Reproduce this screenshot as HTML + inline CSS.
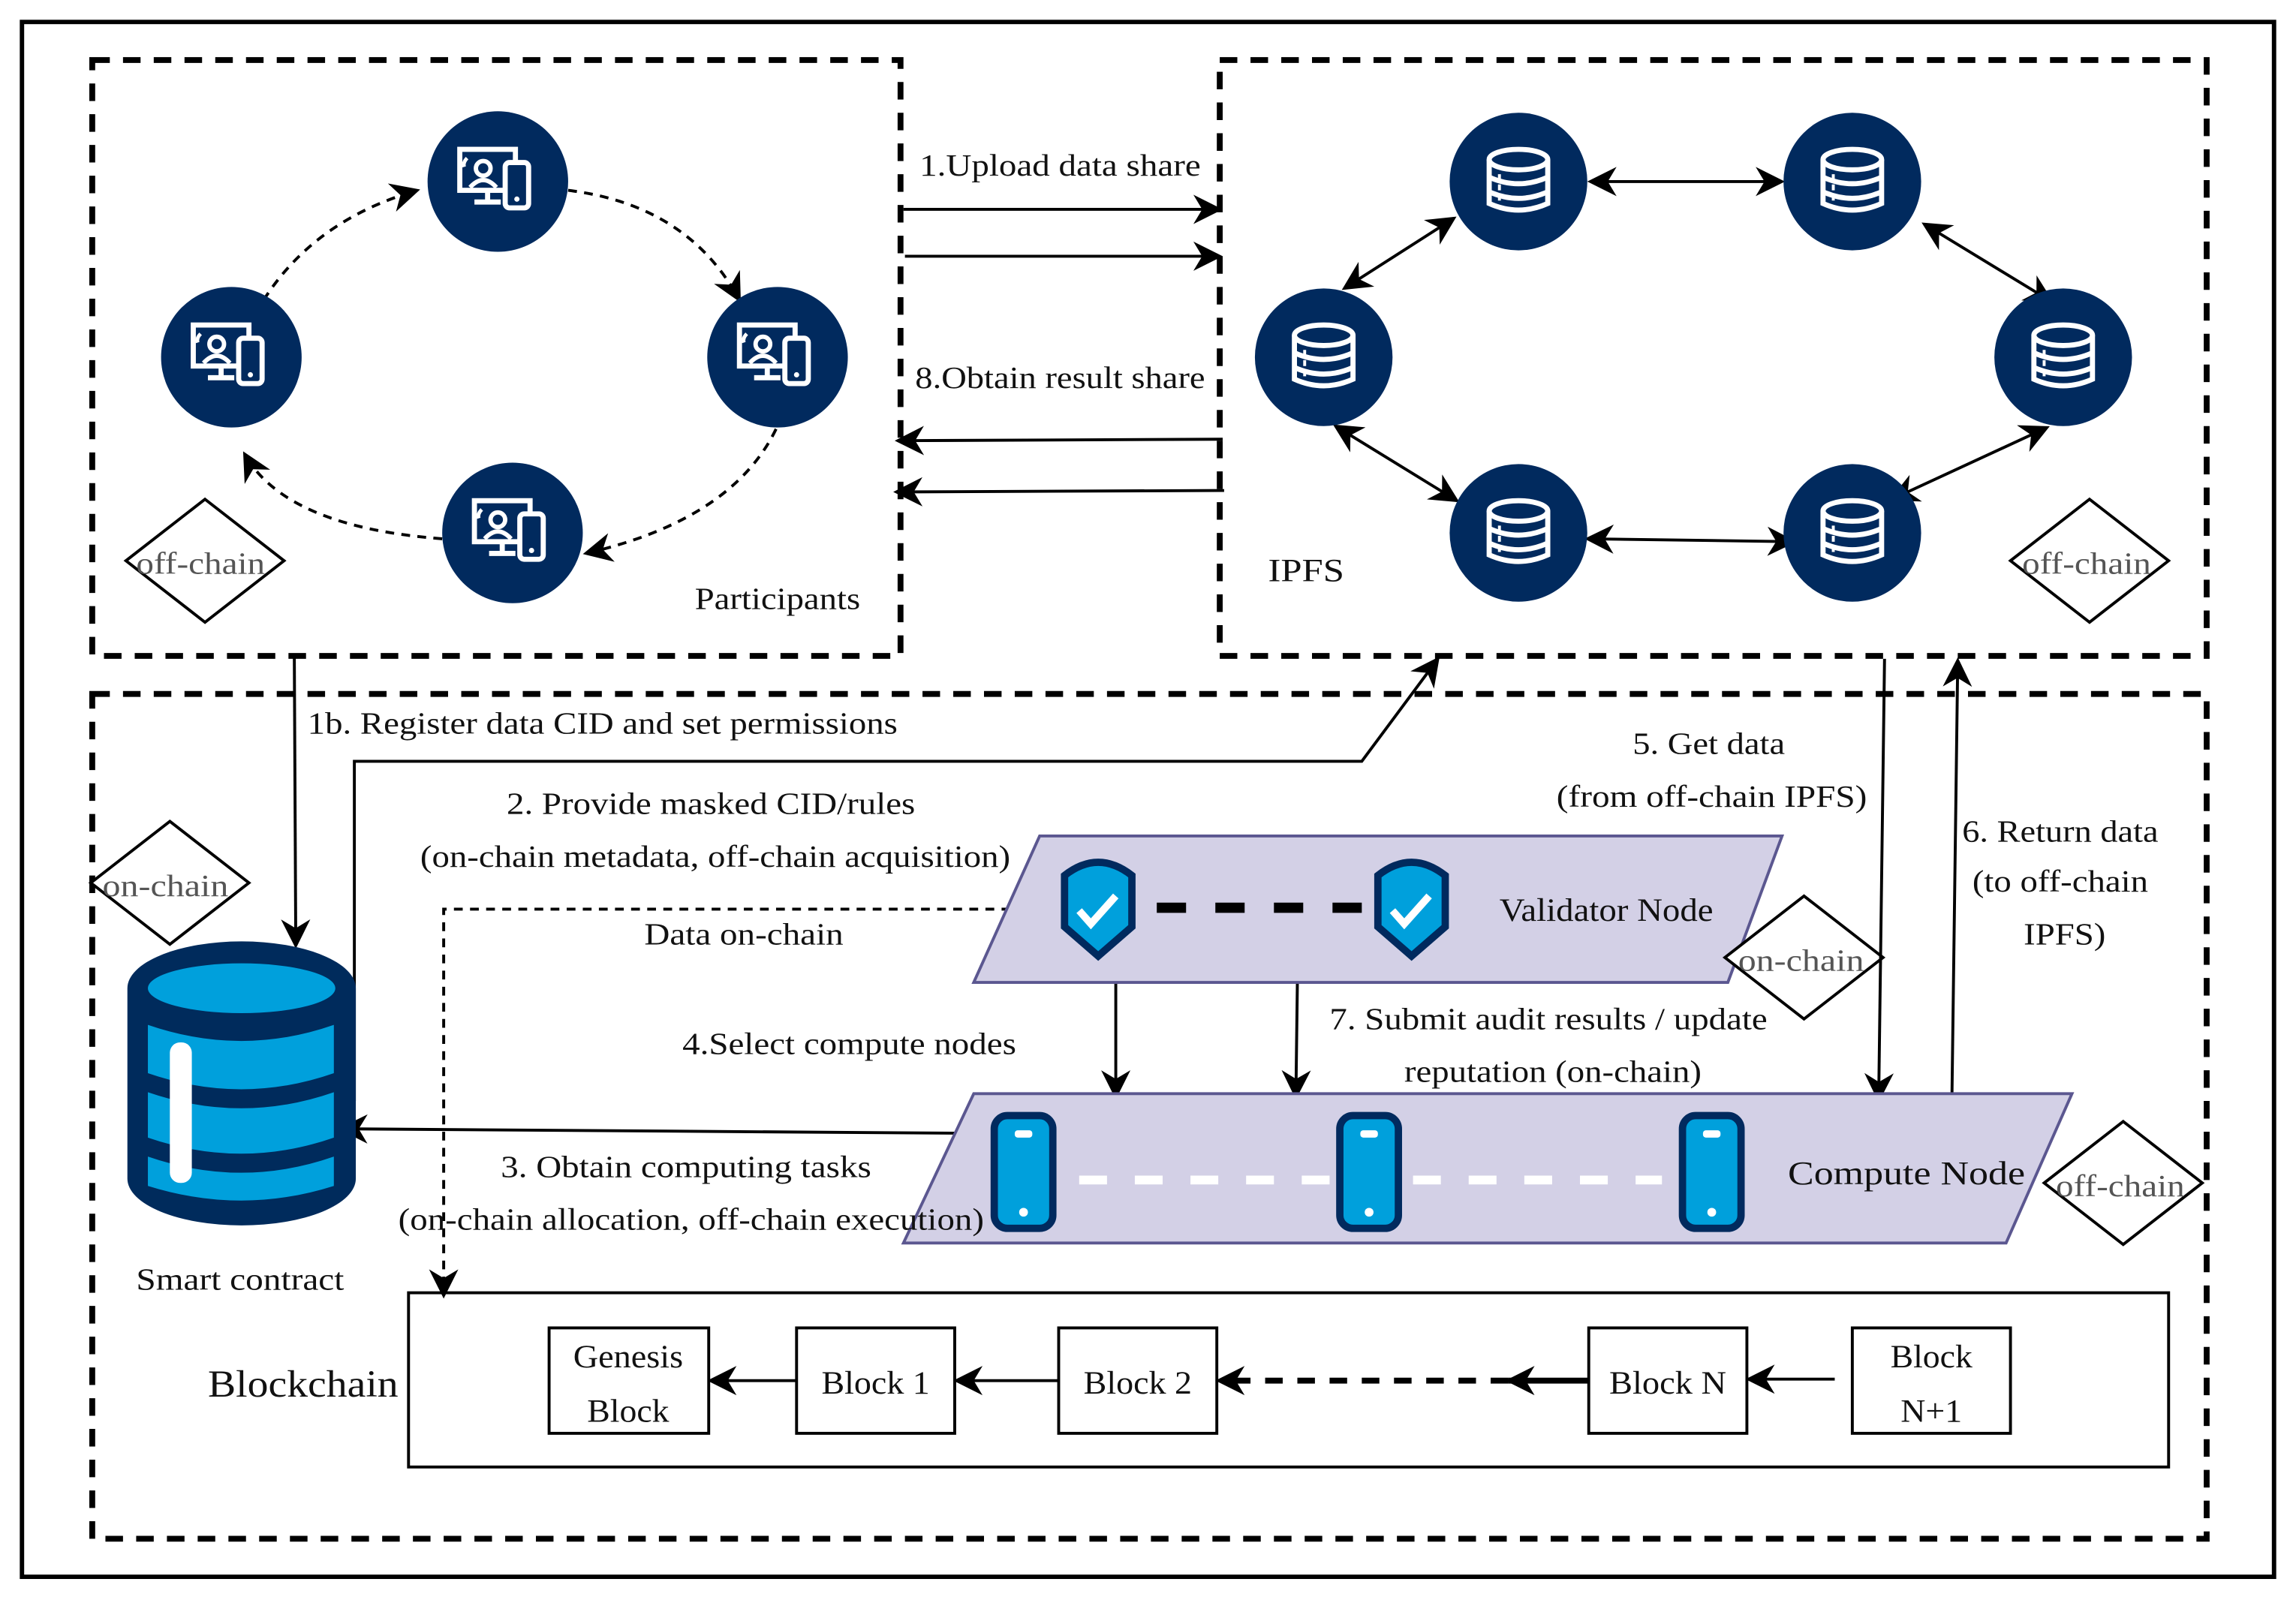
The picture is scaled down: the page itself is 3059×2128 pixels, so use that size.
<!DOCTYPE html>
<html><head><meta charset="utf-8"><style>
html,body{margin:0;padding:0;background:#fff;}
svg{display:block;}
text{font-family:"Liberation Serif","Times New Roman",serif;fill:#111;}
.d{fill:#555;}
</style></head><body>
<svg width="3059" height="2128" viewBox="0 0 1568 1090.8" preserveAspectRatio="none" xmlns="http://www.w3.org/2000/svg">
<defs>
<marker id="b" viewBox="0 0 10 10" refX="9" refY="5" markerWidth="20" markerHeight="20" markerUnits="userSpaceOnUse" orient="auto-start-reverse">
<path d="M0,0 L10,5 L0,10 L3,5 Z" fill="#000"/></marker>
<g id="pc">
<circle r="48" fill="#012a5e"/>
<rect x="-26" y="-22" width="38" height="28" fill="none" stroke="#fff" stroke-width="3.5"/>
<line x1="-7" y1="6" x2="-7" y2="13" stroke="#fff" stroke-width="3.5"/>
<line x1="-16" y1="14" x2="2" y2="14" stroke="#fff" stroke-width="3.5"/>
<circle cx="-10" cy="-9" r="5" fill="none" stroke="#fff" stroke-width="3"/>
<path d="M-19,4 Q-10,-6 -1,4" fill="none" stroke="#fff" stroke-width="3"/>
<path d="M-21,-16 q-3,3 -2,6" fill="none" stroke="#fff" stroke-width="2.5"/>
<rect x="5" y="-13" width="16" height="31" rx="3" fill="#012a5e" stroke="#fff" stroke-width="3.5"/>
<circle cx="13" cy="12" r="1.8" fill="#fff"/>
</g>
<g id="db">
<circle r="47" fill="#012a5e"/>
<ellipse cx="0" cy="-15" rx="20" ry="7" fill="none" stroke="#fff" stroke-width="3.5"/>
<path d="M-20,-15 V15 Q0,24 20,15 V-15" fill="none" stroke="#fff" stroke-width="3.5"/>
<path d="M-20,-3 Q0,6 20,-3 M-20,7 Q0,16 20,7" fill="none" stroke="#fff" stroke-width="3.5"/>
<line x1="-13" y1="-5" x2="-13" y2="13" stroke="#fff" stroke-width="2" stroke-dasharray="4,3"/>
</g>
<g id="sh">
<path d="M-23,-22 Q0,-40 23,-22 V13 L0,33 L-23,13 Z" fill="#00a0dc" stroke="#012a5e" stroke-width="5"/>
<path d="M-13,2 L-5,11 L12,-8" fill="none" stroke="#fff" stroke-width="5"/>
</g>
<g id="ph">
<rect x="-20" y="-38" width="40" height="77" rx="9" fill="#00a0dc" stroke="#012a5e" stroke-width="5"/>
<rect x="-6" y="-28" width="12" height="5" rx="2" fill="#fff"/>
<circle cx="0" cy="28" r="3" fill="#fff"/>
</g>
<g id="dm"><path d="M0,-42 L54,0 L0,42 L-54,0 Z" fill="#fff" stroke="#000" stroke-width="2"/></g>
</defs>

<rect x="15" y="15" width="1538" height="1062" fill="none" stroke="#000" stroke-width="3"/>
<rect x="63" y="41" width="552" height="407" fill="none" stroke="#000" stroke-width="4" stroke-dasharray="12,9"/>
<rect x="833" y="41" width="674" height="407" fill="none" stroke="#000" stroke-width="4" stroke-dasharray="12,9"/>
<rect x="63" y="474" width="1444" height="577" fill="none" stroke="#000" stroke-width="4" stroke-dasharray="12,9"/>

<g fill="none" stroke="#000" stroke-width="2" stroke-dasharray="6,5">
<path d="M180,205 Q215,150 285,130" marker-end="url(#b)"/>
<path d="M388,130 Q470,140 505,205" marker-end="url(#b)"/>
<path d="M530,293 Q500,355 400,378" marker-end="url(#b)"/>
<path d="M302,368 Q195,360 167,310" marker-end="url(#b)"/>
</g>
<use href="#pc" x="340" y="124"/><use href="#pc" x="158" y="244"/><use href="#pc" x="531" y="244"/><use href="#pc" x="350" y="364"/>
<use href="#dm" x="140" y="383"/>
<text x="137" y="392" font-size="21" class="d" text-anchor="middle" textLength="88" lengthAdjust="spacingAndGlyphs">off-chain</text>
<text x="531" y="416" font-size="21" text-anchor="middle" textLength="113" lengthAdjust="spacingAndGlyphs">Participants</text>

<text x="628" y="120" font-size="21" textLength="192" lengthAdjust="spacingAndGlyphs">1.Upload data share</text>
<g stroke="#000" stroke-width="2" fill="none">
<line x1="617" y1="143" x2="833" y2="143" marker-end="url(#b)"/>
<line x1="618" y1="175" x2="833" y2="175" marker-end="url(#b)"/>
<line x1="835" y1="300" x2="613" y2="301" marker-end="url(#b)"/>
<line x1="836" y1="335" x2="612" y2="336" marker-end="url(#b)"/>
</g>
<text x="625" y="265" font-size="21" textLength="198" lengthAdjust="spacingAndGlyphs">8.Obtain result share</text>

<g stroke="#000" stroke-width="2" fill="none">
<line x1="1086" y1="124" x2="1217" y2="124" marker-start="url(#b)" marker-end="url(#b)"/>
<line x1="993" y1="149" x2="918" y2="197" marker-start="url(#b)" marker-end="url(#b)"/>
<line x1="1314" y1="153" x2="1401" y2="206" marker-start="url(#b)" marker-end="url(#b)"/>
<line x1="912" y1="291" x2="995" y2="342" marker-start="url(#b)" marker-end="url(#b)"/>
<line x1="1398" y1="292" x2="1292" y2="341" marker-start="url(#b)" marker-end="url(#b)"/>
<line x1="1084" y1="368" x2="1225" y2="370" marker-start="url(#b)" marker-end="url(#b)"/>
</g>
<use href="#db" x="1037" y="124"/><use href="#db" x="1265" y="124"/><use href="#db" x="904" y="244"/><use href="#db" x="1409" y="244"/><use href="#db" x="1037" y="364"/><use href="#db" x="1265" y="364"/>
<text x="866" y="397" font-size="22" textLength="52" lengthAdjust="spacingAndGlyphs">IPFS</text>
<use href="#dm" x="1427" y="383"/>
<text x="1425" y="392" font-size="21" class="d" text-anchor="middle" textLength="88" lengthAdjust="spacingAndGlyphs">off-chain</text>

<g stroke="#000" stroke-width="2" fill="none">
<line x1="201" y1="449" x2="202" y2="646" marker-end="url(#b)"/>
<polyline points="242,752 242,520 930,520 982,450" marker-end="url(#b)"/>
</g>
<text x="210" y="501" font-size="21" textLength="403" lengthAdjust="spacingAndGlyphs">1b. Register data CID and set permissions</text>
<text x="346" y="556" font-size="21" textLength="279" lengthAdjust="spacingAndGlyphs">2. Provide masked CID/rules</text>
<text x="287" y="592" font-size="21" textLength="403" lengthAdjust="spacingAndGlyphs">(on-chain metadata, off-chain acquisition)</text>
<use href="#dm" x="116" y="603"/>
<text x="113" y="612" font-size="21" class="d" text-anchor="middle" textLength="86" lengthAdjust="spacingAndGlyphs">on-chain</text>

<polyline points="690,621 303,621 303,885" fill="none" stroke="#000" stroke-width="2" stroke-dasharray="6,5" marker-end="url(#b)"/>
<text x="440" y="645" font-size="21" textLength="136" lengthAdjust="spacingAndGlyphs">Data on-chain</text>

<path d="M710,571 L1217,571 L1180,671 L665,671 Z" fill="#d3d0e6" stroke="#5b5790" stroke-width="2"/>
<line x1="790" y1="620" x2="938" y2="620" stroke="#000" stroke-width="7" stroke-dasharray="20,20"/>
<use href="#sh" x="750" y="620"/><use href="#sh" x="964" y="620"/>
<text x="1024" y="629" font-size="22" textLength="146" lengthAdjust="spacingAndGlyphs">Validator Node</text>
<use href="#dm" x="1232" y="654"/>
<text x="1230" y="663" font-size="21" class="d" text-anchor="middle" textLength="86" lengthAdjust="spacingAndGlyphs">on-chain</text>

<g stroke="#000" stroke-width="2" fill="none">
<line x1="762" y1="672" x2="762" y2="749" marker-end="url(#b)"/>
<line x1="886" y1="672" x2="885" y2="749" marker-end="url(#b)"/>
<line x1="1287" y1="450" x2="1283" y2="751" marker-end="url(#b)"/>
<line x1="1333" y1="752" x2="1337" y2="451" marker-end="url(#b)"/>
<line x1="652" y1="774" x2="233" y2="771" marker-end="url(#b)"/>
</g>
<text x="466" y="720" font-size="21" textLength="228" lengthAdjust="spacingAndGlyphs">4.Select compute nodes</text>
<text x="908" y="703" font-size="21" textLength="299" lengthAdjust="spacingAndGlyphs">7. Submit audit results / update</text>
<text x="959" y="739" font-size="21" textLength="203" lengthAdjust="spacingAndGlyphs">reputation (on-chain)</text>
<text x="1115" y="515" font-size="21" textLength="104" lengthAdjust="spacingAndGlyphs">5. Get data</text>
<text x="1063" y="551" font-size="21" textLength="212" lengthAdjust="spacingAndGlyphs">(from off-chain IPFS)</text>
<text x="1340" y="575" font-size="21" textLength="134" lengthAdjust="spacingAndGlyphs">6. Return data</text>
<text x="1347" y="609" font-size="21" textLength="120" lengthAdjust="spacingAndGlyphs">(to off-chain</text>
<text x="1382" y="645" font-size="21" textLength="56" lengthAdjust="spacingAndGlyphs">IPFS)</text>

<path d="M665,747 L1415,747 L1370,849 L617,849 Z" fill="#d3d0e6" stroke="#5b5790" stroke-width="2"/>
<line x1="737" y1="806" x2="1135" y2="806" stroke="#fff" stroke-width="6" stroke-dasharray="19,19"/>
<use href="#ph" x="699" y="800"/><use href="#ph" x="935" y="800"/><use href="#ph" x="1169" y="800"/>
<text x="1221" y="809" font-size="23" textLength="162" lengthAdjust="spacingAndGlyphs">Compute Node</text>
<use href="#dm" x="1450" y="808"/>
<text x="1448" y="817" font-size="21" class="d" text-anchor="middle" textLength="88" lengthAdjust="spacingAndGlyphs">off-chain</text>
<text x="342" y="804" font-size="21" textLength="253" lengthAdjust="spacingAndGlyphs">3. Obtain computing tasks</text>
<text x="272" y="840" font-size="21" textLength="400" lengthAdjust="spacingAndGlyphs">(on-chain allocation, off-chain execution)</text>

<path d="M87,675 A78,32 0 0 1 243,675 V805 A78,32 0 0 1 87,805 Z" fill="#002b5c"/>
<ellipse cx="165" cy="675" rx="64" ry="17" fill="#00a0dc"/>
<path d="M101,700 Q165,722 228,700 L228,733 Q165,755 101,733 Z" fill="#00a0dc"/>
<path d="M101,746 Q165,768 228,746 V777 Q165,799 101,777 Z" fill="#00a0dc"/>
<path d="M101,790 Q165,812 228,790 V810 Q165,830 101,810 Z" fill="#00a0dc"/>
<rect x="116" y="712" width="15" height="96" rx="7" fill="#fff"/>
<text x="93" y="881" font-size="21" textLength="142" lengthAdjust="spacingAndGlyphs">Smart contract</text>

<rect x="279" y="883" width="1202" height="119" fill="none" stroke="#000" stroke-width="2"/>
<text x="142" y="954" font-size="26" textLength="130" lengthAdjust="spacingAndGlyphs">Blockchain</text>
<g fill="#fff" stroke="#000" stroke-width="2">
<rect x="375" y="907" width="109" height="72"/>
<rect x="544" y="907" width="108" height="72"/>
<rect x="723" y="907" width="108" height="72"/>
<rect x="1085" y="907" width="108" height="72"/>
<rect x="1265" y="907" width="108" height="72"/>
</g>
<g font-size="22" text-anchor="middle">
<text x="429" y="934" textLength="75" lengthAdjust="spacingAndGlyphs">Genesis</text>
<text x="429" y="971" textLength="56" lengthAdjust="spacingAndGlyphs">Block</text>
<text x="598" y="952" textLength="74" lengthAdjust="spacingAndGlyphs">Block 1</text>
<text x="777" y="952" textLength="74" lengthAdjust="spacingAndGlyphs">Block 2</text>
<text x="1139" y="952" textLength="80" lengthAdjust="spacingAndGlyphs">Block N</text>
<text x="1319" y="934" textLength="56" lengthAdjust="spacingAndGlyphs">Block</text>
<text x="1319" y="971" textLength="42" lengthAdjust="spacingAndGlyphs">N+1</text>
</g>
<g stroke="#000" stroke-width="2" fill="none">
<line x1="544" y1="943" x2="485" y2="943" marker-end="url(#b)"/>
<line x1="723" y1="943" x2="653" y2="943" marker-end="url(#b)"/>
<line x1="1253" y1="942" x2="1194" y2="942" marker-end="url(#b)"/>
<line x1="1085" y1="943" x2="1030" y2="943" stroke-width="4" marker-end="url(#b)"/>
<line x1="1030" y1="943" x2="832" y2="943" stroke-width="4" stroke-dasharray="12,10" marker-end="url(#b)"/>
</g>
</svg>
</body></html>
